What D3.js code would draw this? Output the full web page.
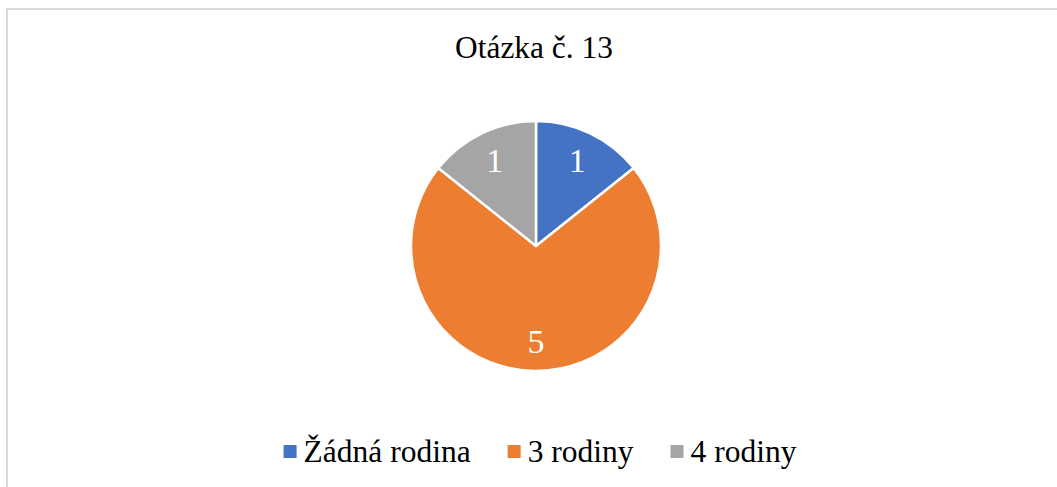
<!DOCTYPE html>
<meta charset="utf-8">
<script src="https://d3js.org/d3.v7.min.js"></script>
<svg id="chart" width="1057" height="487"></svg>
<script>
// data
const categories = ["Žádná rodina", "3 rodiny", "4 rodiny"];
const values = [1, 5, 1];
const colors = ["#4472C4", "#ED7D31", "#A5A5A5"];
const title = "Otázka č. 13";

const FONT = '"Liberation Serif"';

d3.select("body").style("margin", "0px");

const svg = d3.select("#chart");

// chart area border (runs off right/bottom edges)
svg.append("rect")
  .attr("x", 7).attr("y", 9)
  .attr("width", 1060).attr("height", 500)
  .attr("fill", "#fff")
  .attr("stroke", "#d9d9d9")
  .attr("stroke-width", 2);

svg.append("text")
  .attr("x", 534).attr("y", 58)
  .attr("text-anchor", "middle")
  .attr("font-size", 31.4)
  .style("font-family", FONT)
  .attr("fill", "#000")
  .text(title);

const cx = 536, cy = 246, r = 125;

const pie = d3.pie().sort(null).value(d => d)(values);
const arc = d3.arc().innerRadius(0).outerRadius(r);
const labelArc = d3.arc().innerRadius(r * 0.76).outerRadius(r * 0.76);

const g = svg.append("g").attr("transform", `translate(${cx},${cy})`);

g.selectAll("path")
  .data(pie)
  .enter().append("path")
  .attr("d", arc)
  .attr("fill", (d, i) => colors[i])
  .attr("stroke", "#fff")
  .attr("stroke-width", 2.5)
  .attr("stroke-linejoin", "round");

g.selectAll("text.lbl")
  .data(pie)
  .enter().append("text")
  .attr("class", "lbl")
  .attr("transform", d => `translate(${labelArc.centroid(d)})`)
  .attr("text-anchor", "middle")
  .attr("dy", "0.35em")
  .attr("font-size", 34)
  .style("font-family", FONT)
  .attr("fill", "#fff")
  .text(d => d.data);

// legend
const sq = 13, gapText = 7, gapItem = 37;
const items = svg.append("g").selectAll("g")
  .data(categories)
  .enter().append("g");

items.append("rect")
  .attr("width", sq).attr("height", sq)
  .attr("y", -17)
  .attr("fill", (d, i) => colors[i]);

items.append("text")
  .attr("x", sq + gapText)
  .attr("font-size", 31.5)
  .style("font-family", FONT)
  .attr("fill", "#000")
  .text(d => d);

const widths = [];
items.each(function() {
  widths.push(sq + gapText + d3.select(this).select("text").node().getComputedTextLength());
});
const total = d3.sum(widths) + gapItem * (widths.length - 1);
let start = 540 - total / 2;
items.attr("transform", (d, i) => {
  const x = start;
  start += widths[i] + gapItem;
  return `translate(${x},462)`;
});
</script>
